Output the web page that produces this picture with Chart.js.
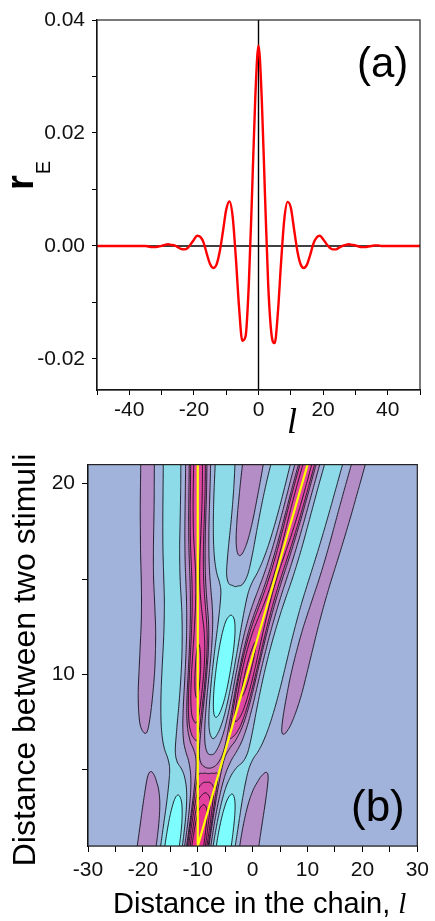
<!DOCTYPE html>
<html>
<head>
<meta charset="utf-8">
<script src="https://cdn.jsdelivr.net/npm/chart.js@4.4.1/dist/chart.umd.min.js"></script>
<style>
  html, body { margin: 0; padding: 0; background: #ffffff; }
  #panelA { position: absolute; left: 0; top: 0; }
  #panelB { position: absolute; left: 0; top: 445px; }
  canvas { display: block; }
</style>
</head>
<body>
<canvas id="panelA" width="435" height="445"></canvas>
<canvas id="panelB" width="435" height="476"></canvas>
<script>
// ---------- Panel (a): single-stimulus response profile ----------
const sites = [
  -50,-49,-48,-47,-46,-45,-44,-43,-42,-41,-40,-39,-38,-37,-36,-35,-34,-33,-32,-31,
  -30,-29,-28,-27,-26,-25,-24,-23,-22,-21,-20,-19,-18,-17,-16,-15,-14,-13,-12,-11,
  -10,-9,-8,-7,-6,-5,-4,-3,-2,-1,0,1,2,3,4,5,6,7,8,9,
  10,11,12,13,14,15,16,17,18,19,20,21,22,23,24,25,26,27,28,29,
  30,31,32,33,34,35,36,37,38,39,40,41,42,43,44,45,46,47,48,49,50
];
const rE = [
  0,0,0,0,0,0,0,0,0,0,0,0,0,0,0,0,                                   // -50 .. -35
  -0.0001,-0.0002,-0.0002,-0.0001,0.0000,                              // -34 .. -30
  0.0002,0.0003,0.0002,0.0001,-0.0002,-0.0005,-0.0006,-0.0004,0.0003,0.0011, // -29 .. -20
  0.0018,0.0016,0.0006,-0.0014,-0.0032,-0.0039,-0.0033,-0.0010,0.0026,0.0064, // -19 .. -10
  0.0079,0.0052,-0.0022,-0.0110,-0.0168,-0.0160,-0.0068,0.0092,0.0262,       // -9 .. -1
  0.0355,                                                              // 0
  0.0262,0.0092,-0.0068,-0.0155,-0.0172,-0.0118,-0.0028,0.0048,0.0078,0.0068, // 1 .. 10
  0.0030,-0.0008,-0.0032,-0.0039,-0.0033,-0.0016,0.0004,0.0015,0.0018,0.0012, // 11 .. 20
  0.0004,-0.0003,-0.0006,-0.0006,-0.0003,0.0000,0.0002,0.0003,0.0002,0.0001,  // 21 .. 30
  -0.0001,-0.0002,-0.0002,-0.0001,0.0000,0.0001,0.0001,0.0000,0,0,            // 31 .. 40
  0,0,0,0,0,0,0,0,0,0                                                  // 41 .. 50
];
const siteRange = [-50, 50];
const rERange = [-0.0255, 0.04];
const siteTicks = [-50, -40, -30, -20, -10, 0, 10, 20, 30, 40, 50];
const rETicks = [-0.02, -0.01, 0, 0.01, 0.02, 0.03, 0.04];

// ---------- Panel (b): two stimuli, distance vs position ----------
const distanceRange = [1, 21];
const chainRange = [-30, 30];
const distanceTicks = [5, 10, 15, 20];
const chainTicks = [-30, -25, -20, -15, -10, -5, 0, 5, 10, 15, 20, 25, 30];
const stimulusD = [1, 21];       // distance between the stimuli (line ends)
const stimulusAL = [-10, -10];   // first stimulus position
const stimulusBL = [-10, 10];    // second stimulus position
const contourLevels = [-0.022, -0.0085, 0.005, 0.017, 0.022, 0.03, 0.04, 0.05];
const bandColors = ['#7DFDFD', '#8DDBE8', '#A2B3DB', '#B48DC6', '#C874BA',
                    '#DB4EA8', '#DF47A3', '#E33F9D', '#E8328F'];

const FONT = "'Liberation Sans', Arial, Helvetica, sans-serif";
const SERIF = "'Liberation Serif', 'Times New Roman', serif";

// smooth profile between integer sites (Catmull-Rom)
function profileAt(x) {
  const p = x - sites[0];
  if (p <= 0 || p >= sites.length - 1) return 0;
  const i = Math.floor(p), t = p - i;
  const g = k => rE[Math.max(0, Math.min(rE.length - 1, k))];
  const p0 = g(i - 1), p1 = g(i), p2 = g(i + 1), p3 = g(i + 2);
  return 0.5 * ((2 * p1) + (-p0 + p2) * t + (2 * p0 - 5 * p1 + 4 * p2 - p3) * t * t +
         (-p0 + 3 * p1 - 3 * p2 + p3) * t * t * t);
}
function stimulusAt(arr, d) {
  const t = (d - stimulusD[0]) / (stimulusD[1] - stimulusD[0]);
  return arr[0] + (arr[1] - arr[0]) * t;
}
// response to both stimuli: the single-stimulus profile centred on each
function fieldAt(l, d) {
  return profileAt(l - stimulusAt(stimulusAL, d)) + profileAt(l - stimulusAt(stimulusBL, d));
}
function bandIndex(v) {
  let k = 0;
  while (k < contourLevels.length && v >= contourLevels[k]) k++;
  return k;
}
function hexRgb(h) {
  return [parseInt(h.slice(1, 3), 16), parseInt(h.slice(3, 5), 16), parseInt(h.slice(5, 7), 16)];
}
const fixedTicks = list => scale => { scale.ticks = list.map(v => ({ value: v })); };

// box around the plotting area
const framePlugin = {
  id: 'frame',
  afterDatasetsDraw(chart) {
    const a = chart.chartArea, ctx = chart.ctx;
    ctx.save();
    ctx.strokeStyle = '#222';
    ctx.lineWidth = 1.2;
    ctx.strokeRect(a.left, a.top, a.right - a.left, a.bottom - a.top);
    ctx.restore();
  }
};

// filled contour map + contour lines for panel (b)
const contourPlugin = {
  id: 'contourMap',
  beforeDatasetsDraw(chart) {
    const a = chart.chartArea, ctx = chart.ctx;
    const xs = chart.scales.x, ys = chart.scales.y;
    const w = Math.round(a.right - a.left), h = Math.round(a.bottom - a.top);
    const off = document.createElement('canvas');
    off.width = w; off.height = h;
    const octx = off.getContext('2d');
    const img = octx.createImageData(w, h);
    const rgb = bandColors.map(hexRgb);
    for (let py = 0; py < h; py++) {
      const d = ys.getValueForPixel(a.top + py + 0.5);
      for (let px = 0; px < w; px++) {
        const l = xs.getValueForPixel(a.left + px + 0.5);
        const c = rgb[bandIndex(fieldAt(l, d))];
        const o = (py * w + px) * 4;
        img.data[o] = c[0]; img.data[o + 1] = c[1]; img.data[o + 2] = c[2]; img.data[o + 3] = 255;
      }
    }
    octx.putImageData(img, 0, 0);
    ctx.save();
    ctx.drawImage(off, a.left, a.top, w, h);

    // contour lines by marching squares
    const nl = 401, nd = 201;
    const L = [], D = [], X = [], Y = [];
    for (let i = 0; i < nl; i++) { L[i] = chainRange[0] + (chainRange[1] - chainRange[0]) * i / (nl - 1); X[i] = xs.getPixelForValue(L[i]); }
    for (let j = 0; j < nd; j++) { D[j] = distanceRange[0] + (distanceRange[1] - distanceRange[0]) * j / (nd - 1); Y[j] = ys.getPixelForValue(D[j]); }
    const V = [];
    for (let j = 0; j < nd; j++) { const row = new Float64Array(nl); for (let i = 0; i < nl; i++) row[i] = fieldAt(L[i], D[j]); V.push(row); }
    ctx.beginPath();
    ctx.rect(a.left, a.top, a.right - a.left, a.bottom - a.top);
    ctx.clip();
    ctx.strokeStyle = 'rgba(15,15,25,0.9)';
    ctx.lineWidth = 1;
    for (const lev of contourLevels) {
      ctx.beginPath();
      for (let j = 0; j < nd - 1; j++) {
        for (let i = 0; i < nl - 1; i++) {
          const v0 = V[j][i], v1 = V[j][i + 1], v2 = V[j + 1][i + 1], v3 = V[j + 1][i];
          const pts = [];
          const edge = (va, vb, xa, ya, xb, yb) => {
            if ((va < lev) !== (vb < lev)) {
              const t = (lev - va) / (vb - va);
              pts.push([xa + (xb - xa) * t, ya + (yb - ya) * t]);
            }
          };
          edge(v0, v1, X[i], Y[j], X[i + 1], Y[j]);
          edge(v1, v2, X[i + 1], Y[j], X[i + 1], Y[j + 1]);
          edge(v2, v3, X[i + 1], Y[j + 1], X[i], Y[j + 1]);
          edge(v3, v0, X[i], Y[j + 1], X[i], Y[j]);
          if (pts.length >= 2) { ctx.moveTo(pts[0][0], pts[0][1]); ctx.lineTo(pts[1][0], pts[1][1]); }
          if (pts.length === 4) { ctx.moveTo(pts[2][0], pts[2][1]); ctx.lineTo(pts[3][0], pts[3][1]); }
        }
      }
      ctx.stroke();
    }
    ctx.restore();
  }
};

function textPlugin(draw) {
  return { id: 'labels', afterDraw(chart) { const ctx = chart.ctx; ctx.save(); draw(ctx, chart); ctx.restore(); } };
}

const tickFont = { family: FONT, size: 21 };

// ---------- chart (a) ----------
new Chart(document.getElementById('panelA'), {
  type: 'line',
  data: {
    datasets: [
      {
        data: sites.map((l, i) => ({ x: l, y: rE[i] })),
        borderColor: '#ff0000', borderWidth: 2.4, pointRadius: 0,
        cubicInterpolationMode: 'monotone', order: 0
      },
      {
        data: siteRange.map(l => ({ x: l, y: 0 })),
        borderColor: '#000000', borderWidth: 1.4, pointRadius: 0, order: 1
      },
      {
        data: rERange.map(r => ({ x: 0, y: r })),
        borderColor: '#000000', borderWidth: 1.4, pointRadius: 0, order: 1
      }
    ]
  },
  options: {
    responsive: false, animation: false, devicePixelRatio: 1,
    layout: { padding: { left: 0, right: 15, top: 20, bottom: 0 } },
    plugins: { legend: { display: false }, tooltip: { enabled: false } },
    scales: {
      x: {
        type: 'linear', min: siteRange[0], max: siteRange[1],
        afterFit(s) { s.height = 55; },
        afterBuildTicks: fixedTicks(siteTicks),
        grid: { drawOnChartArea: false, drawTicks: true, tickLength: 5, color: '#000' },
        border: { display: true, color: '#000', width: 1.2 },
        ticks: { padding: 3, color: '#111', font: tickFont, maxRotation: 0, autoSkip: false,
                 callback: v => (Math.round(v) % 20 === 0 ? String(Math.round(v)) : '') }
      },
      y: {
        type: 'linear', min: rERange[0], max: rERange[1],
        afterFit(s) { s.width = 97; },
        afterBuildTicks: fixedTicks(rETicks),
        grid: { drawOnChartArea: false, drawTicks: true, tickLength: 5, color: '#000' },
        border: { display: true, color: '#000', width: 1.2 },
        ticks: { padding: 7, color: '#111', font: tickFont, autoSkip: false,
                 callback: v => { const k = Math.round(v * 100); return k % 2 === 0 ? (k / 100).toFixed(2) : ''; } }
      }
    }
  },
  plugins: [framePlugin, textPlugin((ctx) => {
    ctx.fillStyle = '#000';
    ctx.textBaseline = 'alphabetic';
    ctx.font = '42px ' + FONT;
    ctx.fillText('(a)', 357, 77);
    ctx.font = 'italic 36px ' + SERIF;
    ctx.fillText('l', 287, 433);
    // r_E, rotated
    ctx.translate(33, 190);
    ctx.rotate(-Math.PI / 2);
    ctx.font = 'bold 38px ' + FONT;
    ctx.fillText('r', 0, 0);
    const rw = ctx.measureText('r').width;
    ctx.font = '20px ' + FONT;
    ctx.fillText('E', rw + 1, 17);
  })]
});

// ---------- chart (b) ----------
new Chart(document.getElementById('panelB'), {
  type: 'line',
  data: {
    datasets: [
      {
        data: stimulusD.map((d, i) => ({ x: stimulusAL[i], y: d })),
        borderColor: '#ffff00', borderWidth: 2.2, pointRadius: 0
      },
      {
        data: stimulusD.map((d, i) => ({ x: stimulusBL[i], y: d })),
        borderColor: '#ffff00', borderWidth: 2.2, pointRadius: 0
      }
    ]
  },
  options: {
    responsive: false, animation: false, devicePixelRatio: 1,
    layout: { padding: { left: 0, right: 17, top: 14, bottom: 0 } },
    plugins: { legend: { display: false }, tooltip: { enabled: false } },
    scales: {
      x: {
        type: 'linear', min: chainRange[0], max: chainRange[1],
        afterFit(s) { s.height = 75; },
        afterBuildTicks: fixedTicks(chainTicks),
        grid: { drawOnChartArea: false, drawTicks: true, tickLength: 6, color: '#000' },
        border: { display: true, color: '#000', width: 1.2 },
        ticks: { padding: 6, color: '#111', font: tickFont, maxRotation: 0, autoSkip: false,
                 callback: v => (Math.round(v) % 10 === 0 ? String(Math.round(v)) : '') }
      },
      y: {
        type: 'linear', min: distanceRange[0], max: distanceRange[1],
        afterFit(s) { s.width = 88; },
        afterBuildTicks: fixedTicks(distanceTicks),
        grid: { drawOnChartArea: false, drawTicks: true, tickLength: 6, color: '#000' },
        border: { display: true, color: '#000', width: 1.2 },
        ticks: { padding: 7, color: '#111', font: tickFont, autoSkip: false,
                 callback: v => (Math.round(v) % 10 === 0 ? String(Math.round(v)) : '') }
      }
    }
  },
  plugins: [contourPlugin, framePlugin, textPlugin((ctx) => {
    ctx.fillStyle = '#000';
    ctx.textBaseline = 'alphabetic';
    ctx.font = '44px ' + FONT;
    ctx.fillText('(b)', 351, 376);
    ctx.font = '29px ' + FONT;
    const t = 'Distance in the chain, ';
    ctx.fillText(t, 113, 468);
    const tw = ctx.measureText(t).width;
    ctx.font = 'italic 29px ' + SERIF;
    ctx.fillText('l', 113 + tw, 468);
    ctx.translate(35, 215);
    ctx.rotate(-Math.PI / 2);
    ctx.font = '32px ' + FONT;
    ctx.textAlign = 'center';
    ctx.fillText('Distance between two stimuli', 0, 0);
  })]
});
</script>
</body>
</html>
